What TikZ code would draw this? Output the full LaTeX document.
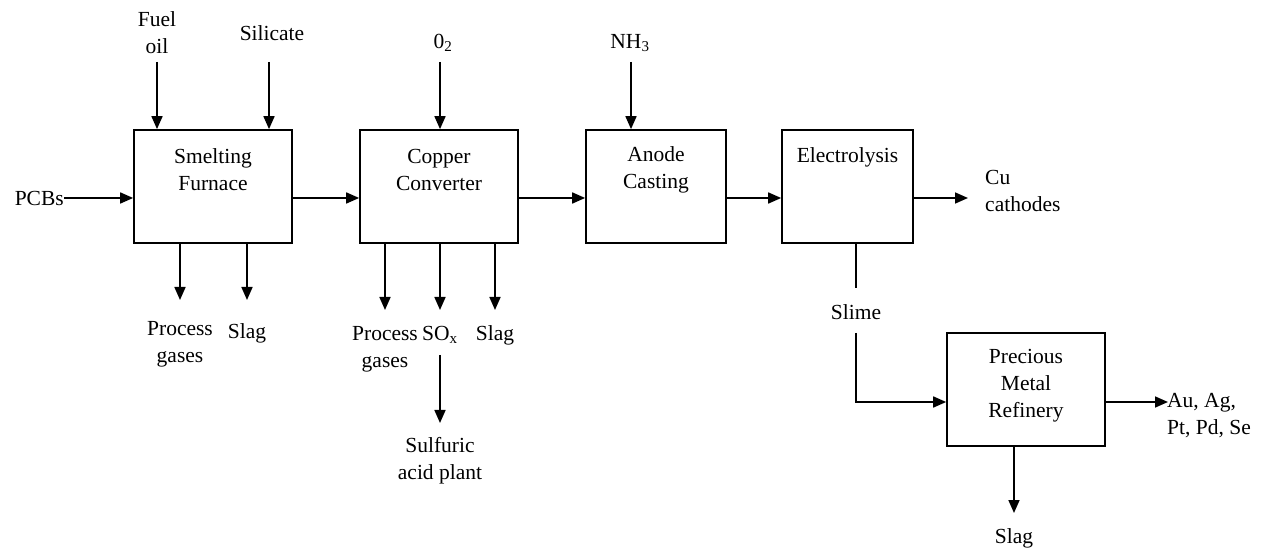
\documentclass[tikz,border=0pt]{standalone}
\usepackage{fontspec}
\setmainfont{Liberation Serif}
\usetikzlibrary{arrows.meta}
\begin{document}
\begin{tikzpicture}[x=1pt,y=-1pt,
  box/.style={draw, line width=1.7pt, rectangle, minimum height=113pt, inner sep=0pt},
  arr/.style={line width=1.7pt, -{Triangle[length=13pt,width=11pt]}},
  ln/.style={line width=1.7pt},
  lbl/.style={align=center, inner sep=0pt, font=\fontsize{21.5}{27}\selectfont},
  lbll/.style={align=left, inner sep=0pt, font=\fontsize{21.5}{27}\selectfont}]
\useasboundingbox (0,0) rectangle (1270,553);
\coordinate (row) at (0,198);
% boxes
\node[box, minimum width=158pt] (b1) at (213,186.5) {};
\node[box, minimum width=158pt] (b2) at (439,186.5) {};
\node[box, minimum width=140pt] (b3) at (656,186.5) {};
\node[box, minimum width=131pt] (b4) at (847.5,186.5) {};
\node[box, minimum width=158pt] (b5) at (1026,389.5) {};
% box texts
\node[lbl] (t1) at (213,170) {Smelting\\Furnace};
\node[lbl] (t2) at (439,170) {Copper\\Converter};
\node[lbl] (t3) at (656,170) {Anode\\Casting};
\node[lbl] (t4) at (847.5,157) {Electrolysis};
\node[lbl] (t5) at (1026,386) {Precious\\Metal\\Refinery};
% top inputs
\node[lbl] (fuel) at (157,33) {Fuel\\oil};
\node[lbl] (sil) at (272,33) {Silicate};
\node[lbl] (oxy) at (443,43) {0\textsubscript{2}};
\node[lbl] (nh) at (630,43) {NH\textsubscript{3}};
\coordinate (cf) at (157,62);
\coordinate (cs) at (269,62);
\coordinate (co) at (440,62);
\coordinate (cn) at (631,62);
\draw[arr] (cf) -- (b1.north -| cf);
\draw[arr] (cs) -- (b1.north -| cs);
\draw[arr] (co) -- (b2.north -| co);
\draw[arr] (cn) -- (b3.north -| cn);
% main row
\node[lbl, anchor=east] (pcb) at (64,198) {PCBs};
\draw[arr] (pcb.east) -- (b1.west |- row);
\draw[arr] (b1.east |- row) -- (b2.west |- row);
\draw[arr] (b2.east |- row) -- (b3.west |- row);
\draw[arr] (b3.east |- row) -- (b4.west |- row);
\coordinate (cu) at (968,198);
\draw[arr] (b4.east |- row) -- (cu);
\node[lbll, anchor=west] (cut) at (985,191) {Cu\\cathodes};
% smelting outputs
\coordinate (o1) at (180,300);
\coordinate (o2) at (247,300);
\draw[arr] (b1.south -| o1) -- (o1);
\draw[arr] (b1.south -| o2) -- (o2);
\node[lbl] (pg1) at (180,344) {Process\\gases};
\node[lbl] (sl1) at (247,333) {Slag};
% converter outputs
\coordinate (o3) at (385,310);
\coordinate (o4) at (440,310);
\coordinate (o5) at (495,310);
\draw[arr] (b2.south -| o3) -- (o3);
\draw[arr] (b2.south -| o4) -- (o4);
\draw[arr] (b2.south -| o5) -- (o5);
\node[lbl] (pg2) at (385,349) {Process\\gases};
\node[lbl] (sox) at (440,335) {SO\textsubscript{x}};
\node[lbl] (sl2) at (495,335) {Slag};
\coordinate (s1) at (440,355);
\coordinate (s2) at (440,423);
\draw[arr] (s1) -- (s2);
\node[lbl] (sap) at (440,461) {Sulfuric\\acid plant};
% slime
\coordinate (sm1) at (856,288);
\draw[ln] (b4.south -| sm1) -- (sm1);
\node[lbl] (slime) at (856,312) {Slime};
\coordinate (sm2) at (856,333);
\coordinate (r5) at (0,402);
\draw[arr] (sm2) |- (b5.west |- r5);
% refinery outputs
\coordinate (au) at (1168,402);
\draw[arr] (b5.east |- r5) -- (au);
\node[lbll, anchor=west] (aut) at (1167,416) {Au, Ag,\\Pt, Pd, Se};
\coordinate (o6) at (1014,513);
\draw[arr] (b5.south -| o6) -- (o6);
\node[lbl] (sl3) at (1014,538) {Slag};
\end{tikzpicture}
\end{document}
